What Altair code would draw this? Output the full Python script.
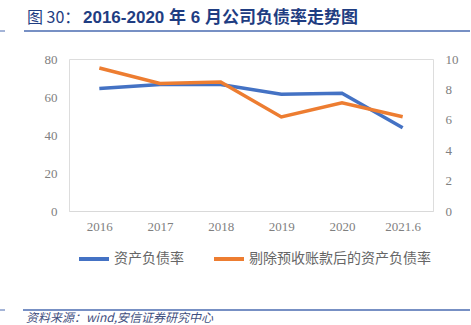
import altair as alt
import pandas as pd

years = ["2016", "2017", "2018", "2019", "2020", "2021.6"]
debt_ratio = [64.5, 66.6, 66.6, 61.5, 62.0, 43.8]
debt_ratio_ex = [75.3, 67.1, 67.9, 49.5, 56.9, 49.6]
series_names = ["资产负债率", "剔除预收账款后的资产负债率"]
left_ticks = [0, 20, 40, 60, 80]
right_ticks = [0, 2, 4, 6, 8, 10]

title_prefix = "图 30："
title_main = "2016-2020 年 6 月公司负债率走势图"
source_text = "资料来源：wind,安信证券研究中心"

rows = []
for y, a, b in zip(years, debt_ratio, debt_ratio_ex):
    rows.append({"year": y, "series": series_names[0], "value": a})
    rows.append({"year": y, "series": series_names[1], "value": b})
df = pd.DataFrame(rows)

CJK = "Noto Sans CJK SC"
SERIF = "Liberation Serif"
W, H = 364, 152

lines = alt.Chart(df).mark_line(strokeWidth=3.5).encode(
    x=alt.X("year:N", sort=years, title=None,
            scale=alt.Scale(paddingInner=0, paddingOuter=0.5, padding=0.5),
            axis=alt.Axis(labelAngle=0, labelFont=SERIF, labelFontSize=13,
                          labelColor="#808080", domainColor="#D9D9D9",
                          domainWidth=1, ticks=False, labelPadding=9, grid=False)),
    y=alt.Y("value:Q", title=None,
            scale=alt.Scale(domain=[0, 80], nice=False),
            axis=alt.Axis(values=left_ticks, labelFont=SERIF, labelFontSize=13,
                          labelColor="#808080", domain=False, ticks=False,
                          grid=False, labelPadding=12)),
    color=alt.Color("series:N", sort=series_names, title=None,
                    scale=alt.Scale(domain=series_names, range=["#4472C4", "#ED7D31"]),
                    legend=alt.Legend(orient="none", legendX=8, legendY=183,
                                      direction="horizontal", symbolType="stroke",
                                      symbolSize=900, symbolStrokeWidth=4,
                                      labelFont=CJK, labelFontSize=14,
                                      labelColor="#666666", labelOffset=3,
                                      columnPadding=22, labelLimit=300)),
)

right = alt.Chart(pd.DataFrame({"v": right_ticks})).mark_point(opacity=0).encode(
    y=alt.Y("v:Q", title=None, scale=alt.Scale(domain=[0, 10], nice=False),
            axis=alt.Axis(orient="right", values=right_ticks, labelFont=SERIF,
                          labelFontSize=13, labelColor="#808080", domain=False,
                          ticks=False, grid=False, labelPadding=12)),
)

deco = pd.DataFrame({"k": [0]})
t1 = alt.Chart(deco).mark_text(align="left", baseline="alphabetic", font=CJK,
                                fontSize=16, color="#1F3D82").encode(
    x=alt.value(-42), y=alt.value(-36), text=alt.value(title_prefix))
t2 = alt.Chart(deco).mark_text(align="left", baseline="alphabetic", font="Liberation Sans, Noto Sans CJK SC",
                                fontSize=17, fontWeight="bold", color="#1F3D82").encode(
    x=alt.value(14), y=alt.value(-36), text=alt.value(title_main))
r1 = alt.Chart(deco).mark_rule(color="#4A6BB0", strokeWidth=1.5).encode(
    x=alt.value(-45), x2=alt.value(401), y=alt.value(-28))
r1b = alt.Chart(deco).mark_rule(color="#4A6BB0", strokeWidth=1).encode(
    x=alt.value(-69), x2=alt.value(-64), y=alt.value(-28))
r2 = alt.Chart(deco).mark_rule(color="#4A6BB0", strokeWidth=1.5).encode(
    x=alt.value(-46), x2=alt.value(401), y=alt.value(251))
r2b = alt.Chart(deco).mark_rule(color="#4A6BB0", strokeWidth=1).encode(
    x=alt.value(-69), x2=alt.value(-64), y=alt.value(251))
t3 = alt.Chart(deco).mark_text(align="left", baseline="middle", font=CJK,
                                fontSize=12, fontStyle="italic", color="#3F4F80").encode(
    x=alt.value(-43), y=alt.value(259), text=alt.value(source_text))

chart = alt.layer(lines, right, t1, t2, r1, r1b, r2, r2b, t3).resolve_scale(
    y="independent"
).properties(
    width=W, height=H,
    autosize=alt.AutoSizeParams(type="none"),
    padding={"left": 69, "top": 59, "right": 38, "bottom": 114},
).configure_view(stroke=None).configure(background="white")

chart.save("out.html", embed_options={"renderer": "svg", "actions": False})
